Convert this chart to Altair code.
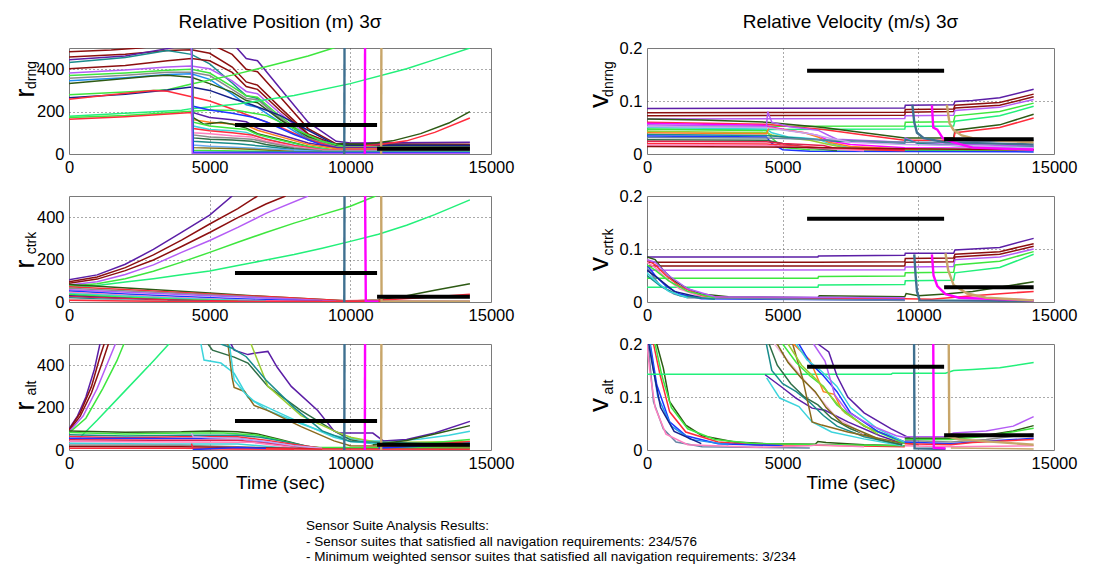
import altair as alt
import pandas as pd

FONT = "Liberation Sans"

TIME_TICKS = [0, 5000, 10000, 15000]
POS_TICKS = [0, 200, 400]
VEL_TICKS = [0, 0.1, 0.2]
POS_MAX = 500
VEL_MAX = 0.2

PANEL_TITLES = ["Relative Position (m) 3σ", "Relative Velocity (m/s) 3σ"]
X_TITLE = "Time (sec)"
Y_SYMBOLS = [("r", "drng"), ("v", "dnrng"), ("r", "ctrk"), ("v", "crtrk"), ("r", "alt"), ("v", "alt")]
NOTE_LINES = [
    "Sensor Suite Analysis Results:",
    " - Sensor suites that satisfied all navigation requirements: 234/576",
    " - Minimum weighted sensor suites that satisfied all navigation requirements: 3/234",
]

# requirement levels: (t start, t end, value)
REQ_POS = [(5900, 10950, 137), (10950, 14250, 25)]
REQ_VEL = [(5900, 10950, 0.157), (10950, 14250, 0.028)]

COL = {
    "purple": "#5b1ea6", "dred": "#8c0f0f", "violet": "#b45cf5", "green": "#3ee63e",
    "sgreen": "#22f07a", "dolive": "#2d5a14", "red": "#ff2b3b", "magenta": "#ff00ff",
    "steel": "#3f7090", "tan": "#c8a66a", "blue": "#1c36ff", "cyan": "#3cd4dc",
    "gray": "#8c8c8c", "orange": "#ff7f1e", "pink": "#ff7fbf", "lpink": "#f2b6d8",
    "navy": "#16208a", "teal": "#1a8c8c", "olive": "#7d6b16", "ygreen": "#9acd32",
    "lblue": "#6aaaf0", "dgreen": "#2f6e46", "lav": "#c6a6ee", "crimson": "#e01f4e",
    "sky": "#1f8ff0", "grayblue": "#6784a4", "lgray": "#c8c8c8", "brown": "#8b6a1e",
}

# ---------------- r_drng ----------------
RD_SERIES = [
    [(0, 482), (1500, 490), (2500, 500), (3500, 515), (5000, 520), (5800, 470), (6300, 400), (6700, 388), (7500, 270), (8500, 120), (9500, 48), (14250, 46)],
    [(0, 458), (2000, 470), (3500, 488), (4350, 492), (5000, 475), (5800, 410), (6300, 340), (6700, 325), (7500, 220), (8500, 95), (9500, 42), (14250, 40)],
    [(0, 445), (2000, 462), (3500, 497), (4350, 520), (5800, 525), (6300, 450), (6700, 440), (7500, 310), (8500, 150), (9500, 60), (10000, 52), (14250, 55)],
    [(0, 432), (2000, 455), (3500, 488), (4350, 470), (5000, 425), (5800, 335), (6300, 275), (6700, 262), (7500, 165), (8500, 72), (9500, 32), (14250, 30)],
    [(0, 402), (2000, 418), (3500, 440), (4350, 450), (5000, 440), (5800, 385), (6300, 318), (6700, 305), (7500, 205), (8500, 92), (9500, 40), (14250, 38)],
    [(0, 382), (2000, 396), (3500, 410), (4350, 415), (5000, 402), (5800, 345), (6300, 295), (6700, 284), (7500, 192), (8500, 86), (9500, 38), (14250, 36)],
    [(0, 370), (2000, 382), (3500, 395), (4350, 400), (5000, 382), (5800, 318), (6300, 275), (6700, 268), (7500, 178), (8500, 80), (9500, 35), (14250, 34)],
    [(0, 357), (2000, 372), (3500, 386), (4350, 386), (5000, 370), (5800, 305), (6300, 262), (6700, 256), (7500, 170), (8500, 76), (9500, 34), (14250, 33)],
    [(0, 345), (2000, 360), (3500, 375), (4350, 378), (5000, 352), (5800, 282), (6300, 232), (6700, 220), (7500, 150), (8500, 66), (9500, 30), (14250, 28)],
    [(0, 332), (2000, 356), (3000, 368), (3500, 372), (4350, 362), (5000, 332), (5800, 292), (6300, 252), (6700, 242), (7500, 162), (8500, 82), (9500, 42), (14250, 40)],
    [(0, 280), (2000, 292), (3500, 303), (4350, 330), (5800, 372), (7000, 412), (8500, 462), (9400, 500), (9800, 520)],
    [(0, 265), (2000, 282), (3500, 302), (4350, 316), (5000, 300), (5800, 262), (6500, 232), (7500, 182), (8500, 112), (9500, 42), (14250, 40)],
    [(0, 258), (1500, 280), (3000, 300), (3500, 296), (4350, 270), (5000, 250), (5800, 212), (6500, 176), (7500, 128), (8500, 68), (9500, 30), (14250, 28)],
    [(0, 178), (2000, 192), (4000, 206), (4350, 214), (6000, 236), (8000, 276), (10000, 332), (12000, 402), (13000, 445), (14250, 500)],
    [(0, 172), (2000, 182), (4350, 202), (5000, 208), (6000, 205), (7000, 182), (8000, 120), (9000, 60), (9800, 35)],
    [(0, 164), (2000, 176), (4350, 196), (4400, 100)],
    [(4350, 560), (4420, 225), (5000, 208), (5800, 192), (6500, 175), (7000, 152), (8000, 92), (9000, 42), (9800, 22), (14250, 18)],
    [(4350, 560), (4420, 195), (5000, 172), (5800, 162), (6300, 152), (6700, 122), (7500, 92), (8500, 52), (9500, 30), (14250, 27)],
    [(4350, 560), (4420, 162), (5000, 150), (5800, 142), (6300, 136), (6700, 112), (7500, 82), (8500, 45), (9500, 25), (14250, 22)],
    [(4350, 560), (4420, 172), (4800, 140), (5400, 150), (5800, 140), (6300, 122), (6700, 96), (7500, 70), (8500, 35), (9500, 15), (14250, 14)],
    [(4350, 560), (4420, 150), (5000, 132), (5800, 122), (6300, 116), (6700, 92), (7500, 66), (8500, 36), (9500, 18), (14250, 16)],
    [(4350, 560), (4420, 132), (5000, 116), (5800, 110), (6300, 102), (6700, 82), (7500, 56), (8500, 30), (9500, 15), (14250, 14)],
    [(4350, 560), (4420, 120), (5000, 110), (5800, 100), (6500, 90), (7000, 70), (8000, 40), (9000, 20), (14250, 18)],
    [(4350, 560), (4420, 100), (5000, 96), (5800, 86), (6500, 80), (7000, 60), (8000, 35), (9000, 18), (14250, 16)],
    [(4350, 560), (4420, 90), (5000, 80), (5800, 76), (6500, 70), (7000, 55), (8000, 30), (9000, 15), (14250, 14)],
    [(4350, 560), (4420, 76), (5000, 70), (5800, 66), (6500, 60), (7000, 45), (8000, 25), (9000, 12), (14250, 11)],
    [(4350, 560), (4420, 60), (5000, 55), (6000, 48), (7000, 35), (8000, 20), (9000, 10), (14250, 9)],
    [(4350, 560), (4420, 42), (5000, 36), (7000, 25), (9000, 12), (14250, 12)],
    [(4350, 560), (4420, 30), (6000, 25), (8000, 12), (10000, 7), (14250, 6)],
    [(4350, 560), (4420, 18), (6000, 14), (8000, 9), (14250, 9)],
    [(4350, 560), (4420, 8), (14250, 7)],
    [(4350, 520), (4380, 2), (14250, 2)],
    [(9500, 48), (10500, 46), (11500, 62), (12500, 96), (13500, 146), (14250, 200)],
    [(10500, 40), (11000, 44), (12000, 62), (13000, 102), (14250, 170)],
]
RD_COLORS = ["dred", "dred", "purple", "teal", "dred", "violet", "green", "gray", "sky", "dolive",
             "green", "navy", "red", "sgreen", "green", "red",
             "blue", "purple", "orange", "dolive", "green", "cyan", "red", "pink", "gray", "dgreen",
             "teal", "lblue", "olive", "green", "blue", "violet",
             "dolive", "red"]
RD_SPIKES = [[(9785, 0), (9795, 600)], [(10515, 0), (10525, 600)], [(11095, 0), (11105, 600)]]

# ---------------- r_ctrk ----------------
RC_SERIES = [
    [(0, 105), (1000, 128), (2000, 178), (3000, 248), (4000, 328), (5000, 410), (5800, 500)],
    [(0, 95), (1000, 118), (2000, 162), (3000, 222), (4000, 292), (5000, 368), (6000, 440), (6700, 500)],
    [(0, 88), (1000, 108), (2000, 148), (3000, 198), (4000, 262), (5000, 328), (6000, 398), (7000, 462), (7700, 500)],
    [(0, 80), (1000, 96), (2000, 130), (3000, 175), (4000, 234), (5000, 290), (6000, 352), (7000, 418), (8500, 500)],
    [(0, 74), (1000, 86), (2000, 110), (3000, 145), (4000, 188), (5000, 234), (6000, 282), (7000, 328), (8000, 372), (9000, 412), (10000, 452), (10900, 500)],
    [(0, 70), (1000, 78), (2000, 94), (3000, 110), (4000, 128), (5000, 146), (6000, 172), (7000, 198), (8000, 224), (9000, 254), (10000, 286), (11000, 320), (12000, 362), (13000, 412), (14250, 482)],
    [(0, 82), (2500, 62), (5000, 42), (7500, 22), (10000, 5), (11000, 10), (12000, 30), (13000, 55), (14250, 86)],
    [(0, 72), (2500, 55), (5000, 38), (7500, 22), (9800, 6), (11000, 8), (12500, 20), (14250, 36)],
    [(0, 65), (2500, 50), (5000, 34), (7500, 18), (9500, 4), (14250, 3)],
    [(0, 58), (2500, 44), (5000, 30), (7500, 16), (9500, 3)],
    [(0, 52), (2000, 38), (4000, 26), (6000, 15), (9000, 3)],
    [(0, 46), (2000, 32), (4000, 20), (7000, 6), (9000, 2)],
    [(0, 40), (2000, 28), (4000, 16), (7000, 5)],
    [(0, 35), (2000, 22), (4000, 12), (6000, 5)],
    [(0, 30), (1500, 20), (3000, 12), (5000, 4)],
    [(0, 26), (2000, 16), (4000, 8), (6000, 3), (14250, 2)],
    [(0, 20), (1500, 12), (3000, 6), (5000, 2)],
    [(0, 14), (1000, 10), (2000, 8), (3500, 4)],
    [(0, 8), (2000, 5), (5000, 2), (14250, 1)],
]
RC_COLORS = ["purple", "dred", "dred", "violet", "green", "sgreen", "dolive", "red", "gray", "violet",
             "blue", "pink", "cyan", "green", "navy", "crimson", "teal", "lgray", "red"]
RC_SPIKES = [[(9785, 0), (9795, 600)], [(10520, 600), (10550, 3), (11000, 2)], [(11095, 600), (11110, 2), (14250, 1)]]

# ---------------- r_alt ----------------
RA_SERIES = [
    [(0, 100), (300, 160), (600, 250), (900, 380), (1100, 500)],
    [(0, 95), (400, 175), (800, 300), (1100, 440), (1250, 500)],
    [(0, 90), (400, 160), (800, 270), (1200, 420), (1400, 500)],
    [(0, 86), (500, 160), (1000, 290), (1400, 420), (1650, 500)],
    [(0, 80), (600, 150), (1200, 290), (1700, 420), (1950, 500)],
    [(400, 60), (1000, 140), (2000, 280), (3000, 420), (3550, 500)],
    [(0, 90), (2000, 84), (4000, 86), (5000, 90), (6000, 86), (6700, 76), (7500, 50), (8500, 16), (9000, 10), (14250, 8)],
    [(0, 82), (2000, 76), (4000, 80), (5500, 80), (6700, 70), (7500, 46), (8500, 13), (14250, 10)],
    [(0, 72), (2000, 66), (4000, 70), (6000, 70), (6800, 60), (7800, 36), (8800, 10)],
    [(0, 64), (2000, 58), (4000, 62), (6000, 62), (7000, 46), (8000, 26), (9000, 8)],
    [(0, 56), (3000, 54), (6000, 54), (7000, 38), (8500, 10)],
    [(0, 48), (3000, 46), (6000, 46), (7000, 32), (8500, 8)],
    [(0, 40), (4000, 38), (6500, 36), (8000, 12)],
    [(0, 32), (3000, 28), (6000, 28), (7500, 12)],
    [(0, 24), (4000, 22), (7000, 12), (9000, 6)],
    [(0, 16), (4000, 15), (7000, 10), (9000, 5)],
    [(0, 8), (4000, 8), (8000, 4)],
    [(4350, 80), (4420, 62), (5000, 58), (6000, 54), (7000, 40), (8000, 20), (9000, 8)],
    [(4350, 30), (4420, 6), (6000, 5), (14250, 4)],
    [(4400, 2), (6000, 12), (7000, 8)],
    [(4690, 500), (4800, 424), (5400, 410), (5870, 362), (6360, 248), (7070, 186), (8250, 124), (9420, 67), (10630, 43), (11500, 42), (12500, 52), (13500, 70), (14250, 88)],
    [(4940, 500), (5100, 471), (5870, 438), (6360, 410), (6580, 376), (7070, 300), (8250, 186), (9420, 90), (10000, 48), (10800, 30), (14250, 30)],
    [(5650, 500), (5800, 340), (5870, 295), (6240, 276), (6580, 210), (7070, 186), (8250, 110), (9420, 43), (10000, 20), (14250, 15)],
    [(5700, 500), (5870, 330), (6240, 270), (6580, 230), (7070, 200), (8250, 128), (9420, 60), (10000, 40), (11000, 30), (14250, 35)],
    [(5760, 500), (5870, 471), (6360, 450), (6580, 456), (7070, 465), (7400, 390), (7900, 300), (8840, 186), (9420, 90), (9600, 80), (10800, 80), (11170, 43), (12000, 50), (13000, 80), (14250, 135)],
    [(6470, 500), (7070, 300), (8250, 162), (9420, 90), (10000, 60), (11000, 35), (14250, 40)],
    [(5400, 500), (5800, 480), (6300, 440), (7000, 330), (8000, 200), (9000, 90), (10000, 40), (14250, 25)],
    [(10800, 25), (12000, 45), (13000, 75), (14250, 115)],
    [(11000, 20), (12500, 30), (14250, 50)],
    [(11000, 15), (12500, 24), (14250, 40)],
    [(11000, 10), (12500, 18), (14250, 32)],
]
RA_COLORS = ["purple", "dred", "dred", "violet", "green", "sgreen",
             "dolive", "green", "teal", "red", "blue", "crimson", "pink", "cyan", "gray", "dred", "red",
             "lav", "red", "blue",
             "cyan", "dgreen", "brown", "cyan", "purple", "ygreen", "teal",
             "dolive", "green", "red", "blue"]
RA_SPIKES = [[(9785, 0), (9795, 600)], [(10515, 0), (10525, 600)], [(11095, 0), (11105, 600)]]

# ---------------- v_dnrng ----------------
VD_SERIES = [
    [(0, 0.086), (9500, 0.087), (9520, 0.092), (11300, 0.093), (11350, 0.099), (12000, 0.101), (13000, 0.106), (14250, 0.122)],
    [(0, 0.078), (9500, 0.079), (9520, 0.084), (11300, 0.085), (11350, 0.092), (13000, 0.097), (14250, 0.113)],
    [(0, 0.072), (9500, 0.073), (9520, 0.079), (11300, 0.080), (11350, 0.087), (13000, 0.092), (14250, 0.108)],
    [(0, 0.066), (9500, 0.067), (9520, 0.072), (11300, 0.073), (11350, 0.082), (13000, 0.088), (14250, 0.103)],
    [(0, 0.052), (9500, 0.053), (9520, 0.060), (11300, 0.061), (11350, 0.072), (13000, 0.080), (14250, 0.096)],
    [(0, 0.046), (9500, 0.047), (9520, 0.052), (11300, 0.053), (11350, 0.062), (13000, 0.072), (14250, 0.090)],
    [(0, 0.066), (2000, 0.064), (4400, 0.060), (6500, 0.050), (8000, 0.040), (9500, 0.030), (11300, 0.030), (11350, 0.045), (13000, 0.055), (14250, 0.075)],
    [(0, 0.060), (4400, 0.056), (6500, 0.046), (8000, 0.036), (9500, 0.026), (11300, 0.026), (11350, 0.040), (13000, 0.050), (14250, 0.068)],
    [(0, 0.058), (4400, 0.054), (4500, 0.052), (5200, 0.045), (5800, 0.040), (6300, 0.035), (6700, 0.025), (7500, 0.018), (9500, 0.012), (14250, 0.010)],
    [(0, 0.055), (4400, 0.052), (4450, 0.080), (4600, 0.060), (5200, 0.052), (5800, 0.048), (6300, 0.045), (6700, 0.035), (7000, 0.028), (9500, 0.022), (9520, 0.030), (10000, 0.020), (14250, 0.015)],
    [(0, 0.050), (4400, 0.047), (4600, 0.040), (5200, 0.032), (5800, 0.030), (6300, 0.028), (6700, 0.020), (7500, 0.012), (9500, 0.010), (14250, 0.008)],
    [(0, 0.047), (4400, 0.044), (4600, 0.030), (5000, 0.012), (6000, 0.008), (14250, 0.006)],
    [(0, 0.043), (4400, 0.040), (4600, 0.036), (5200, 0.030), (6000, 0.026), (6700, 0.018), (7500, 0.010), (14250, 0.008)],
    [(0, 0.040), (4400, 0.038), (4500, 0.050), (5000, 0.046), (5800, 0.040), (6300, 0.032), (6700, 0.022), (7500, 0.014), (10000, 0.008)],
    [(0, 0.037), (4400, 0.035), (5500, 0.030), (7000, 0.024), (9500, 0.020), (9520, 0.028), (10000, 0.020), (12000, 0.014), (14250, 0.013)],
    [(0, 0.034), (4400, 0.032), (4600, 0.020), (5000, 0.008), (6000, 0.005), (14250, 0.004)],
    [(0, 0.031), (4400, 0.030), (6000, 0.028), (7000, 0.026), (9500, 0.022), (11300, 0.022), (14250, 0.026)],
    [(0, 0.027), (4400, 0.026), (5000, 0.020), (6000, 0.012), (7000, 0.006)],
    [(0, 0.024), (4400, 0.023), (5000, 0.020), (6500, 0.016), (7000, 0.010), (9500, 0.008)],
    [(0, 0.020), (4400, 0.019), (5500, 0.015), (7000, 0.010), (9500, 0.006)],
    [(0, 0.017), (4400, 0.016), (6000, 0.012), (8000, 0.006)],
    [(0, 0.014), (4400, 0.013), (9500, 0.010), (14250, 0.008)],
    [(0, 0.052), (4400, 0.050), (5200, 0.044), (6000, 0.038), (6700, 0.030), (7500, 0.022), (9500, 0.018), (11300, 0.016), (14250, 0.012)],
]
VD_COLORS = ["purple", "dred", "dred", "violet", "green", "sgreen", "dolive", "red",
             "magenta", "violet", "cyan", "green", "ygreen", "orange", "teal", "blue", "grayblue",
             "dgreen", "crimson", "red", "pink", "dred", "lav"]
VD_SPIKES = [
    [(9780, 0.093), (9850, 0.060), (9950, 0.040), (10200, 0.030), (11000, 0.022), (14250, 0.018)],
    [(10500, 0.092), (10550, 0.050), (10700, 0.046), (10900, 0.030), (11300, 0.022), (12000, 0.012), (14250, 0.008)],
    [(11050, 0.093), (11150, 0.058), (11300, 0.045), (11600, 0.035), (12000, 0.030), (13000, 0.025), (14250, 0.022)],
]

# ---------------- v_crtrk ----------------
VC_SERIES = [
    [(0, 0.085), (6300, 0.085), (6320, 0.087), (9500, 0.088), (9520, 0.092), (11300, 0.092), (11350, 0.098), (12000, 0.100), (13000, 0.103), (14250, 0.120)],
    [(0, 0.075), (6300, 0.075), (9500, 0.076), (9520, 0.082), (11300, 0.083), (11350, 0.090), (13000, 0.095), (14250, 0.110)],
    [(0, 0.068), (9500, 0.068), (9520, 0.075), (11300, 0.076), (11350, 0.085), (13000, 0.090), (14250, 0.105)],
    [(0, 0.060), (9500, 0.061), (9520, 0.066), (11300, 0.067), (11350, 0.080), (13000, 0.085), (14250, 0.100)],
    [(0, 0.045), (6300, 0.045), (6320, 0.048), (9500, 0.049), (9520, 0.055), (11300, 0.056), (11350, 0.070), (13000, 0.077), (14250, 0.095)],
    [(0, 0.028), (6300, 0.028), (6320, 0.032), (9500, 0.033), (9520, 0.040), (11300, 0.041), (11350, 0.055), (13000, 0.065), (14250, 0.090)],
    [(0, 0.085), (300, 0.080), (600, 0.060), (1000, 0.040), (1500, 0.025), (2000, 0.015), (3000, 0.010), (6300, 0.008), (6350, 0.012), (9500, 0.010), (9550, 0.016), (10000, 0.012), (11000, 0.015), (12000, 0.020), (14250, 0.038)],
    [(0, 0.080), (300, 0.070), (700, 0.050), (1200, 0.030), (2000, 0.012), (3000, 0.008), (9500, 0.006), (10500, 0.005), (12000, 0.012), (14250, 0.020)],
    [(0, 0.070), (300, 0.050), (700, 0.030), (1200, 0.015), (2000, 0.006), (9500, 0.004)],
    [(0, 0.065), (200, 0.050), (500, 0.030), (1000, 0.015), (1500, 0.008), (9500, 0.003)],
    [(0, 0.075), (300, 0.065), (700, 0.045), (1200, 0.025), (2000, 0.010)],
    [(0, 0.070), (300, 0.060), (800, 0.040), (1500, 0.020), (2500, 0.008)],
    [(0, 0.060), (400, 0.045), (1000, 0.020), (2000, 0.008)],
    [(0, 0.050), (500, 0.030), (1200, 0.012), (2500, 0.005)],
    [(0, 0.055), (300, 0.040), (800, 0.020), (1500, 0.008)],
    [(0, 0.080), (300, 0.075), (800, 0.050), (1500, 0.025), (2500, 0.010), (9500, 0.008)],
]
VC_COLORS = ["purple", "dred", "dred", "violet", "green", "sgreen", "dolive", "red", "blue", "grayblue",
             "pink", "green", "navy", "teal", "cyan", "violet"]
VC_SPIKES = [
    [(9850, 0.090), (9900, 0.050), (9950, 0.020), (10050, 0.003), (14250, 0.002)],
    [(10500, 0.090), (10560, 0.050), (10700, 0.030), (11000, 0.015), (11500, 0.008), (14250, 0.003)],
    [(11000, 0.092), (11100, 0.060), (11300, 0.032), (11800, 0.016), (12500, 0.008), (14250, 0.003)],
]

# ---------------- v_alt ----------------
VA_SERIES = [
    [(0, 0.32), (360, 0.20), (600, 0.155), (835, 0.091), (1430, 0.047), (2030, 0.027), (3220, 0.015), (4410, 0.012), (6200, 0.011), (6300, 0.016), (6600, 0.014), (8000, 0.010), (9500, 0.008)],
    [(0, 0.30), (240, 0.20), (480, 0.142), (835, 0.072), (1430, 0.034), (2620, 0.015), (4000, 0.010), (6300, 0.009), (9500, 0.006)],
    [(0, 0.30), (300, 0.20), (550, 0.14), (900, 0.08), (1500, 0.04), (2500, 0.02), (4000, 0.012), (9500, 0.008)],
    [(0, 0.28), (120, 0.20), (360, 0.123), (835, 0.053), (1430, 0.027), (2620, 0.012), (5000, 0.008)],
    [(0, 0.26), (150, 0.18), (400, 0.10), (900, 0.045), (1600, 0.020), (3000, 0.010)],
    [(0, 0.20), (60, 0.19), (240, 0.091), (600, 0.040), (1070, 0.015), (2030, 0.006), (6000, 0.004)],
    [(0, 0.20), (100, 0.15), (300, 0.08), (700, 0.03), (1500, 0.01), (4000, 0.005), (6000, 0.008), (6300, 0.010), (8000, 0.006)],
    [(0, 0.22), (200, 0.16), (500, 0.08), (1000, 0.035), (2000, 0.012)],
    [(0, 0.143), (9000, 0.143), (9050, 0.145), (11000, 0.145), (11300, 0.150), (12000, 0.152), (13000, 0.155), (14250, 0.165)],
    [(4355, 0.142), (5010, 0.117), (5490, 0.098), (6085, 0.079), (6560, 0.075), (7400, 0.053), (8590, 0.027), (9425, 0.012)],
    [(4410, 0.136), (4890, 0.098), (5600, 0.082), (6085, 0.053), (6800, 0.034), (7990, 0.021), (9425, 0.008)],
    [(4400, 0.20), (4600, 0.150), (5000, 0.125), (5500, 0.110), (6000, 0.090), (6500, 0.065), (7000, 0.045), (8000, 0.025), (9400, 0.010)],
    [(4500, 0.20), (4800, 0.160), (5300, 0.125), (5800, 0.100), (6300, 0.085), (6800, 0.060), (7500, 0.040), (8500, 0.020), (9400, 0.010)],
    [(4700, 0.20), (5000, 0.180), (5500, 0.150), (6000, 0.120), (6500, 0.090), (7000, 0.060), (8000, 0.030)],
    [(4800, 0.20), (5200, 0.165), (5700, 0.135), (6200, 0.110), (6600, 0.080), (7200, 0.050), (8500, 0.022)],
    [(5370, 0.20), (5730, 0.136), (6085, 0.053), (6440, 0.047), (7400, 0.034), (9190, 0.015), (10000, 0.010)],
    [(5400, 0.20), (6000, 0.170), (6500, 0.110), (6900, 0.105), (7200, 0.075), (8000, 0.045), (9500, 0.015)],
    [(5000, 0.20), (5500, 0.165), (6000, 0.140), (6500, 0.120), (7000, 0.085), (8000, 0.045), (9500, 0.012)],
    [(5200, 0.20), (5700, 0.160), (6300, 0.130), (6800, 0.100), (7300, 0.070), (8500, 0.030)],
    [(5600, 0.20), (6000, 0.165), (6500, 0.140), (7000, 0.110), (7500, 0.070), (8500, 0.035), (9500, 0.015)],
    [(5500, 0.20), (5900, 0.170), (6400, 0.150), (7000, 0.120), (7500, 0.080), (8500, 0.040), (9500, 0.015)],
    [(6140, 0.20), (6560, 0.168), (6920, 0.104), (7400, 0.072), (8230, 0.047), (9190, 0.027), (9780, 0.021)],
    [(6300, 0.20), (6700, 0.185), (7000, 0.140), (7400, 0.100), (8000, 0.070), (9000, 0.040), (9700, 0.022)],
    [(9500, 0.025), (11000, 0.025), (11300, 0.032), (12500, 0.036), (13500, 0.045), (14250, 0.063)],
    [(9500, 0.022), (11200, 0.022), (12500, 0.028), (13500, 0.036), (14250, 0.046)],
    [(9500, 0.020), (11200, 0.020), (12500, 0.026), (14250, 0.041)],
    [(9500, 0.018), (11200, 0.015), (12500, 0.020), (14250, 0.030)],
    [(9500, 0.015), (11200, 0.012), (12000, 0.015), (14250, 0.022)],
    [(9500, 0.012), (11200, 0.010), (12000, 0.014), (14250, 0.020)],
    [(9500, 0.008), (11200, 0.006), (14250, 0.008)],
    [(11200, 0.004), (14250, 0.002)],
]
VA_COLORS = ["dolive", "red", "green", "blue", "sky", "grayblue", "pink", "navy", "sgreen",
             "purple", "cyan", "teal", "dgreen", "lpink", "olive", "brown", "orange", "green", "ygreen",
             "blue", "cyan", "violet", "purple",
             "violet", "dolive", "green", "gray", "blue", "red", "pink", "tan"]
VA_SPIKES = [
    [(9835, 0.30), (9860, 0.003), (11000, 0.002)],
    [(10540, 0.30), (10570, 0.004), (11000, 0.003)],
    [(11110, 0.30), (11140, 0.025), (11500, 0.020), (14250, 0.010)],
]
SPIKE_COLORS = ["steel", "magenta", "tan"]


def to_df(series, colors):
    rows = []
    for i, (pts, cname) in enumerate(zip(series, colors)):
        for k, (t, v) in enumerate(pts):
            rows.append({"sid": i, "k": k, "t": t, "v": v, "c": COL[cname]})
    return pd.DataFrame(rows)


def req_df(req):
    return pd.DataFrame([{"t": a, "t2": b, "v": v} for a, b, v in req])


GRID_OFF = {"condition": {"test": "datum.value === 0 || datum.value === 15000 || datum.value === 0.2", "value": 0}, "value": 1}
ONE = pd.DataFrame({"a": [0]})


def panel(series, colors, spikes, req, ymax, yticks, yfmt, sym, sym_pos, width, height,
          title=None, title_offset=0, xtitle=None, extra=None):
    xenc = alt.X("t:Q", scale=alt.Scale(domain=[0, 15000], nice=False, zero=False),
                 axis=alt.Axis(values=TIME_TICKS, format="d", title=xtitle, labelFlush=False,
                               gridOpacity=GRID_OFF))
    yenc = alt.Y("v:Q", scale=alt.Scale(domain=[0, ymax], nice=False, zero=False),
                 axis=alt.Axis(values=yticks, format=yfmt, title=None, labelFlush=False,
                               gridOpacity=GRID_OFF))
    base_lines = alt.Chart(to_df(series, colors)).mark_line(clip=True, strokeWidth=1.5).encode(
        x=xenc, y=yenc, detail="sid:N", order="k:Q", color=alt.Color("c:N", scale=None))
    spk = alt.Chart(to_df(spikes, SPIKE_COLORS)).mark_line(clip=True, strokeWidth=2.4).encode(
        x="t:Q", y="v:Q", detail="sid:N", order="k:Q", color=alt.Color("c:N", scale=None))
    rq = alt.Chart(req_df(req)).mark_rule(strokeWidth=4, color="black").encode(
        x="t:Q", x2="t2:Q", y="v:Q")
    mx, my, sx, sy = sym_pos
    s_main = alt.Chart(ONE).mark_text(text=sym[0], angle=270, fontSize=28, font=FONT,
                                      align="center", baseline="alphabetic", color="black").encode(
        x=alt.value(mx), y=alt.value(my))
    s_sub = alt.Chart(ONE).mark_text(text=sym[1], angle=270, fontSize=14, font=FONT,
                                     align="center", baseline="alphabetic", color="black").encode(
        x=alt.value(sx), y=alt.value(sy))
    layers = [base_lines, spk, rq, s_main, s_sub]
    if extra:
        layers += extra
    ch = alt.layer(*layers).properties(width=width, height=height)
    if title:
        ch = ch.properties(title=alt.TitleParams(text=title, fontSize=19, font=FONT,
                                                 fontWeight="normal", color="black",
                                                 offset=title_offset))
    return ch


# invisible anchor fixing the top-left corner of the drawing (page origin)
anchor = alt.Chart(ONE).mark_square(size=1, color="white", opacity=1).encode(
    x=alt.value(-60), y=alt.value(-187))

notes = []
for i, line in enumerate(NOTE_LINES):
    notes.append(alt.Chart(ONE).mark_text(text=line, fontSize=13.5, font=FONT, align="left",
                                          baseline="middle", color="black").encode(
        x=alt.value(237), y=alt.value(182 + 15.5 * i)))

LW, RW, H = 422, 407, 106
# (main x, main y, sub x, sub y) of the rotated y-axis symbols
SYM_POS = [(-35, 45, -33, 27), (-39, 53, -34, 31), (-35, 68, -33, 47),
           (-39, 68, -34, 46), (-35, 62, -33, 44), (-39, 61, -34, 43)]

p1 = panel(RD_SERIES, RD_COLORS, RD_SPIKES, REQ_POS, POS_MAX, POS_TICKS, "d", Y_SYMBOLS[0], SYM_POS[0], LW, H,
           title=PANEL_TITLES[0], title_offset=16)
p2 = panel(VD_SERIES, VD_COLORS, VD_SPIKES, REQ_VEL, VEL_MAX, VEL_TICKS, ".1~f", Y_SYMBOLS[1], SYM_POS[1], RW, H,
           title=PANEL_TITLES[1], title_offset=8)
p3 = panel(RC_SERIES, RC_COLORS, RC_SPIKES, REQ_POS, POS_MAX, POS_TICKS, "d", Y_SYMBOLS[2], SYM_POS[2], LW, H,
           extra=[anchor])
p4 = panel(VC_SERIES, VC_COLORS, VC_SPIKES, REQ_VEL, VEL_MAX, VEL_TICKS, ".1~f", Y_SYMBOLS[3], SYM_POS[3], RW, H)
p5 = panel(RA_SERIES, RA_COLORS, RA_SPIKES, REQ_POS, POS_MAX, POS_TICKS, "d", Y_SYMBOLS[4], SYM_POS[4], LW, H,
           xtitle=X_TITLE, extra=notes)
p6 = panel(VA_SERIES, VA_COLORS, VA_SPIKES, REQ_VEL, VEL_MAX, VEL_TICKS, ".1~f", Y_SYMBOLS[5], SYM_POS[5], RW, H,
           xtitle=X_TITLE)

chart = alt.concat(p1, p2, p3, p4, p5, p6, columns=2,
                   spacing=alt.RowColnumber(row=42, column=156), bounds="flush").properties(
    padding=0
).configure_view(
    stroke="#7a7a7a", strokeWidth=1
).configure_axis(
    grid=True, gridColor="#555555", gridDash=[1, 3], gridWidth=1,
    domain=False, ticks=False,
    labelFont=FONT, labelFontSize=16.5, labelColor="black", labelPadding=5,
    titleFont=FONT, titleFontSize=19, titleFontWeight="normal", titleColor="black", titlePadding=2,
)

chart.save("out.html", embed_options={"renderer": "svg", "actions": False})
